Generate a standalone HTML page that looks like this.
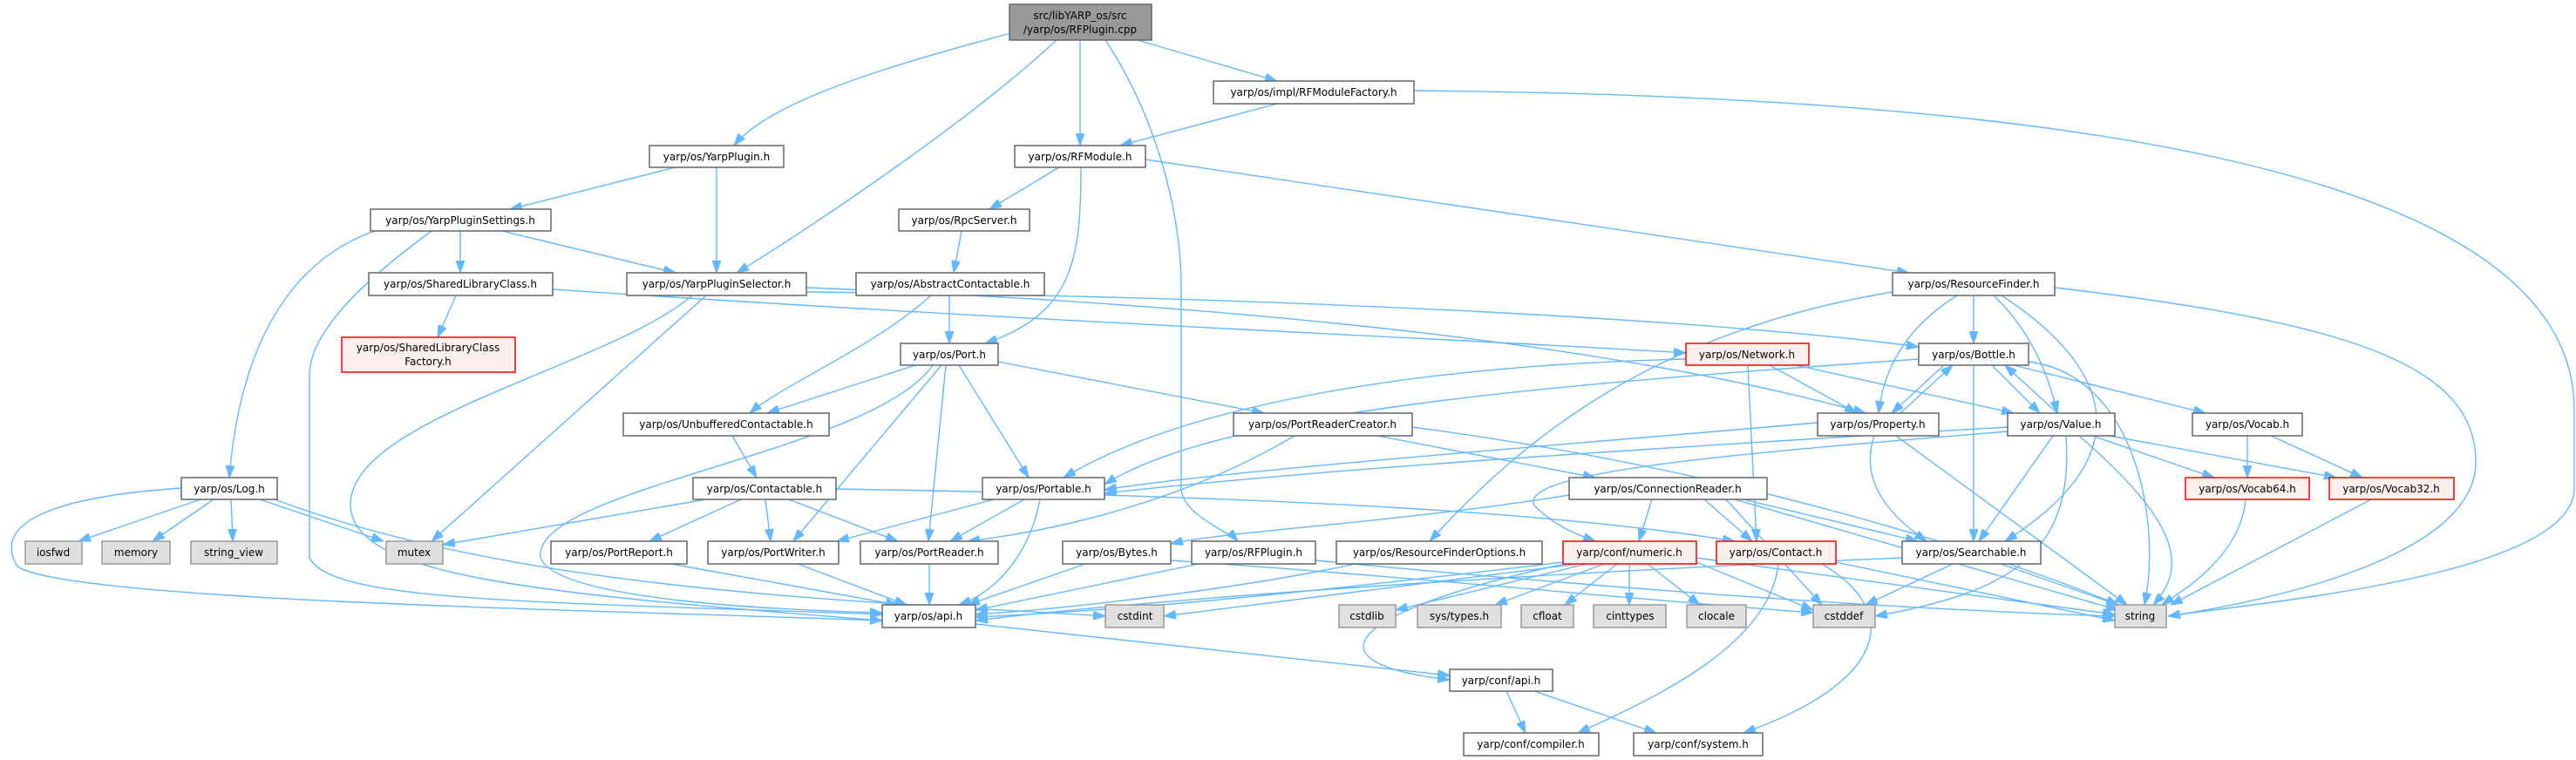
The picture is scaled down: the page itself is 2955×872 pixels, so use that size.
<!DOCTYPE html>
<html><head><meta charset="utf-8"><style>
html,body{margin:0;padding:0;background:#fff;}
svg{display:block;}
text{font-family:"DejaVu Sans","Liberation Sans",sans-serif;font-size:12px;fill:#000;text-anchor:middle;}
.n{fill:#fff;stroke:#666;stroke-width:1.5}
.g{fill:#e0e0e0;stroke:#999;stroke-width:1.5}
.r{fill:#fff0f0;stroke:#f00;stroke-width:1.5}
.root{fill:#999;stroke:#666;stroke-width:1.5}
path{fill:none;stroke:#63b8ff;stroke-width:1.4}
</style></head><body>
<svg width="2955" height="872" viewBox="0 0 2955 872" xmlns="http://www.w3.org/2000/svg">
<defs><marker id="a" viewBox="0 0 14 10" refX="14" refY="5" markerWidth="14" markerHeight="10" markerUnits="userSpaceOnUse" orient="auto"><path d="M0 0 L14 5 L0 10 Z" style="fill:#63b8ff;stroke:#63b8ff;stroke-width:1"/></marker></defs>
<g marker-end="url(#a)">
<path d="M1160 38 C1000 80 880 120 842 167"/>
<path d="M1212 46 C1100 150 900 280 845 313"/>
<path d="M1239 46 L1239 167"/>
<path d="M1305 46 L1465 93"/>
<path d="M1268 46 C1330 140 1355 250 1355 330 L1355 560 C1355 590 1410 610 1420 621"/>
<path d="M1465 119 L1285 167"/>
<path d="M1622 104 C2300 110 2953 180 2953 470 L2953 560 C2953 660 2600 690 2487 707"/>
<path d="M775 192 L585 240"/>
<path d="M822 192 L822 313"/>
<path d="M1215 192 L1135 240"/>
<path d="M1240 192 C1240 300 1230 360 1130 394"/>
<path d="M1314 183 L2190 313"/>
<path d="M528 265 L528 313"/>
<path d="M576 265 L775 313"/>
<path d="M430 265 C330 300 275 400 263 548"/>
<path d="M495 265 C420 320 355 380 355 430 L355 640 C380 690 600 690 1012 705"/>
<path d="M1103 265 L1094 313"/>
<path d="M523 339 L502 387"/>
<path d="M634 332 C1200 370 1700 390 1934 405"/>
<path d="M810 339 L495 621"/>
<path d="M794 339 C700 420 400 480 402 580 C405 660 600 680 1012 712"/>
<path d="M925 330 C1300 345 1800 380 2140 474"/>
<path d="M925 335 C1500 340 2000 370 2201 398"/>
<path d="M1089 339 L1089 394"/>
<path d="M1068 339 C1000 400 900 440 860 474"/>
<path d="M2264 339 L2264 394"/>
<path d="M2245 339 C2180 380 2160 430 2155 474"/>
<path d="M2287 339 C2330 380 2350 430 2360 474"/>
<path d="M2296 339 C2420 420 2460 520 2300 621"/>
<path d="M2357 330 C2700 370 2840 420 2840 530 C2840 640 2600 690 2487 707"/>
<path d="M2171 335 C1900 380 1750 500 1640 621"/>
<path d="M1050 419 L880 474"/>
<path d="M1145 415 L1450 474"/>
<path d="M1100 419 L1180 548"/>
<path d="M1080 419 L910 621"/>
<path d="M1085 419 L1065 621"/>
<path d="M1070 419 C1000 520 610 560 620 640 C640 690 900 700 1012 703"/>
<path d="M2030 419 L2130 474"/>
<path d="M2060 419 L2310 474"/>
<path d="M2005 419 L2015 621"/>
<path d="M1934 412 C1600 420 1350 470 1220 548"/>
<path d="M2230 419 L2170 474"/>
<path d="M2180 474 L2240 419"/>
<path d="M2285 419 L2340 474"/>
<path d="M2360 474 L2300 419"/>
<path d="M2264 419 L2264 621"/>
<path d="M2327 415 C2450 430 2480 600 2460 694"/>
<path d="M2310 419 L2530 474"/>
<path d="M2201 412 C1800 440 1400 470 1267 556"/>
<path d="M2085 485 C1800 510 1400 540 1267 562"/>
<path d="M2150 500 C2130 560 2180 600 2210 621"/>
<path d="M2175 500 L2440 694"/>
<path d="M2303 490 C1800 520 1500 540 1267 566"/>
<path d="M2355 500 L2270 621"/>
<path d="M2385 500 C2500 600 2510 650 2470 694"/>
<path d="M2400 500 L2540 548"/>
<path d="M2420 500 L2680 548"/>
<path d="M2370 500 C2380 640 2300 680 2151 707"/>
<path d="M2303 495 C2000 520 1740 540 1760 580 C1780 600 1800 610 1830 621"/>
<path d="M2578 500 L2578 548"/>
<path d="M2605 500 L2710 548"/>
<path d="M2576 573 C2570 640 2500 680 2480 694"/>
<path d="M2720 573 L2490 694"/>
<path d="M840 500 L868 548"/>
<path d="M1485 500 C1350 580 1200 610 1110 621"/>
<path d="M1580 500 L1830 548"/>
<path d="M1620 490 C2000 540 2300 640 2430 694"/>
<path d="M230 573 L90 621"/>
<path d="M245 573 L175 621"/>
<path d="M265 573 L267 621"/>
<path d="M298 573 L440 621"/>
<path d="M208 560 C60 570 -10 600 20 650 C80 690 700 700 1012 712"/>
<path d="M315 573 C600 680 1000 690 1268 707"/>
<path d="M810 573 L508 625"/>
<path d="M850 573 L745 621"/>
<path d="M878 573 L884 621"/>
<path d="M905 573 L1030 621"/>
<path d="M959 561 C1500 570 1800 590 1990 621"/>
<path d="M1140 573 L960 621"/>
<path d="M1175 573 L1090 621"/>
<path d="M1193 573 C1180 640 1140 680 1100 694"/>
<path d="M1800 568 C1600 600 1400 610 1343 624"/>
<path d="M1895 573 L1880 621"/>
<path d="M1955 573 L2010 621"/>
<path d="M2000 573 L2200 621"/>
<path d="M1990 573 L2430 700"/>
<path d="M1980 573 L2090 694"/>
<path d="M770 647 L1030 694"/>
<path d="M915 647 L1040 694"/>
<path d="M1066 647 L1066 694"/>
<path d="M1245 647 L1110 694"/>
<path d="M1342 643 C1600 660 1900 690 2080 703"/>
<path d="M1375 647 L1119 700"/>
<path d="M1509 643 C1900 680 2200 700 2426 707"/>
<path d="M1555 647 C1400 680 1200 700 1119 705"/>
<path d="M1793 645 C1500 680 1300 700 1119 708"/>
<path d="M1810 647 L1335 707"/>
<path d="M1820 647 L1601 700"/>
<path d="M1840 647 L1715 694"/>
<path d="M1855 647 L1795 694"/>
<path d="M1869 647 L1869 694"/>
<path d="M1890 647 L1950 694"/>
<path d="M1946 645 L2080 700"/>
<path d="M1946 640 L2426 705"/>
<path d="M1795 647 C1550 700 1490 760 1663 780"/>
<path d="M2106 645 L2426 712"/>
<path d="M2040 647 C2030 740 1900 800 1810 841"/>
<path d="M2090 647 C2180 700 2170 780 2000 841"/>
<path d="M2240 647 L2140 694"/>
<path d="M2295 647 L2430 694"/>
<path d="M2182 640 C1700 660 1300 690 1119 712"/>
<path d="M1119 716 L1663 775"/>
<path d="M1728 793 L1750 841"/>
<path d="M1760 793 L1900 841"/>
</g>
<!-- nodes -->
<rect class="root" x="1158" y="5" width="163" height="41"/><text x="1239" y="22">src/libYARP_os/src</text><text x="1239" y="38">/yarp/os/RFPlugin.cpp</text>
<rect class="n" x="1392" y="93" width="230" height="26"/><text x="1507" y="110">yarp/os/impl/RFModuleFactory.h</text>
<rect class="n" x="745" y="167" width="154" height="25"/><text x="822" y="184">yarp/os/YarpPlugin.h</text>
<rect class="n" x="1164" y="167" width="150" height="25"/><text x="1239" y="184">yarp/os/RFModule.h</text>
<rect class="n" x="425" y="240" width="207" height="25"/><text x="528" y="257">yarp/os/YarpPluginSettings.h</text>
<rect class="n" x="1031" y="240" width="150" height="25"/><text x="1106" y="257">yarp/os/RpcServer.h</text>
<rect class="n" x="423" y="313" width="211" height="26"/><text x="528" y="330">yarp/os/SharedLibraryClass.h</text>
<rect class="n" x="719" y="313" width="206" height="26"/><text x="822" y="330">yarp/os/YarpPluginSelector.h</text>
<rect class="n" x="982" y="313" width="216" height="26"/><text x="1090" y="330">yarp/os/AbstractContactable.h</text>
<rect class="n" x="2171" y="313" width="186" height="26"/><text x="2264" y="330">yarp/os/ResourceFinder.h</text>
<rect class="r" x="392" y="387" width="199" height="40"/><text x="491" y="403">yarp/os/SharedLibraryClass</text><text x="491" y="419">Factory.h</text>
<rect class="n" x="1033" y="394" width="112" height="25"/><text x="1089" y="411">yarp/os/Port.h</text>
<rect class="r" x="1934" y="394" width="141" height="25"/><text x="2004" y="411">yarp/os/Network.h</text>
<rect class="n" x="2201" y="394" width="126" height="25"/><text x="2264" y="411">yarp/os/Bottle.h</text>
<rect class="n" x="715" y="474" width="236" height="26"/><text x="833" y="491">yarp/os/UnbufferedContactable.h</text>
<rect class="n" x="1415" y="474" width="205" height="26"/><text x="1517" y="491">yarp/os/PortReaderCreator.h</text>
<rect class="n" x="2085" y="474" width="139" height="26"/><text x="2154" y="491">yarp/os/Property.h</text>
<rect class="n" x="2303" y="474" width="123" height="26"/><text x="2364" y="491">yarp/os/Value.h</text>
<rect class="n" x="2515" y="474" width="126" height="26"/><text x="2578" y="491">yarp/os/Vocab.h</text>
<rect class="n" x="208" y="548" width="110" height="25"/><text x="263" y="565">yarp/os/Log.h</text>
<rect class="n" x="795" y="548" width="164" height="25"/><text x="877" y="565">yarp/os/Contactable.h</text>
<rect class="n" x="1127" y="548" width="140" height="25"/><text x="1197" y="565">yarp/os/Portable.h</text>
<rect class="n" x="1800" y="548" width="227" height="25"/><text x="1913" y="565">yarp/os/ConnectionReader.h</text>
<rect class="r" x="2507" y="548" width="142" height="25"/><text x="2578" y="565">yarp/os/Vocab64.h</text>
<rect class="r" x="2672" y="548" width="143" height="25"/><text x="2743" y="565">yarp/os/Vocab32.h</text>
<rect class="g" x="29" y="621" width="65" height="26"/><text x="61" y="638">iosfwd</text>
<rect class="g" x="117" y="621" width="78" height="26"/><text x="156" y="638">memory</text>
<rect class="g" x="219" y="621" width="99" height="26"/><text x="268" y="638">string_view</text>
<rect class="g" x="443" y="621" width="65" height="26"/><text x="475" y="638">mutex</text>
<rect class="n" x="632" y="621" width="156" height="26"/><text x="710" y="638">yarp/os/PortReport.h</text>
<rect class="n" x="812" y="621" width="150" height="26"/><text x="887" y="638">yarp/os/PortWriter.h</text>
<rect class="n" x="987" y="621" width="158" height="26"/><text x="1066" y="638">yarp/os/PortReader.h</text>
<rect class="n" x="1219" y="621" width="124" height="26"/><text x="1281" y="638">yarp/os/Bytes.h</text>
<rect class="n" x="1367" y="621" width="142" height="26"/><text x="1438" y="638">yarp/os/RFPlugin.h</text>
<rect class="n" x="1533" y="621" width="236" height="26"/><text x="1651" y="638">yarp/os/ResourceFinderOptions.h</text>
<rect class="r" x="1793" y="621" width="153" height="26"/><text x="1869" y="638">yarp/conf/numeric.h</text>
<rect class="r" x="1969" y="621" width="137" height="26"/><text x="2037" y="638">yarp/os/Contact.h</text>
<rect class="n" x="2182" y="621" width="159" height="26"/><text x="2261" y="638">yarp/os/Searchable.h</text>
<rect class="n" x="1012" y="694" width="107" height="26"/><text x="1065" y="711">yarp/os/api.h</text>
<rect class="g" x="1268" y="694" width="67" height="26"/><text x="1302" y="711">cstdint</text>
<rect class="g" x="1536" y="694" width="65" height="26"/><text x="1568" y="711">cstdlib</text>
<rect class="g" x="1626" y="694" width="96" height="26"/><text x="1674" y="711">sys/types.h</text>
<rect class="g" x="1745" y="694" width="60" height="26"/><text x="1775" y="711">cfloat</text>
<rect class="g" x="1828" y="694" width="83" height="26"/><text x="1870" y="711">cinttypes</text>
<rect class="g" x="1935" y="694" width="68" height="26"/><text x="1969" y="711">clocale</text>
<rect class="g" x="2080" y="694" width="71" height="26"/><text x="2115" y="711">cstddef</text>
<rect class="g" x="2426" y="694" width="59" height="26"/><text x="2455" y="711">string</text>
<rect class="n" x="1663" y="768" width="118" height="25"/><text x="1722" y="785">yarp/conf/api.h</text>
<rect class="n" x="1679" y="841" width="155" height="26"/><text x="1756" y="858">yarp/conf/compiler.h</text>
<rect class="n" x="1874" y="841" width="148" height="26"/><text x="1948" y="858">yarp/conf/system.h</text>
</svg>
</body></html>
